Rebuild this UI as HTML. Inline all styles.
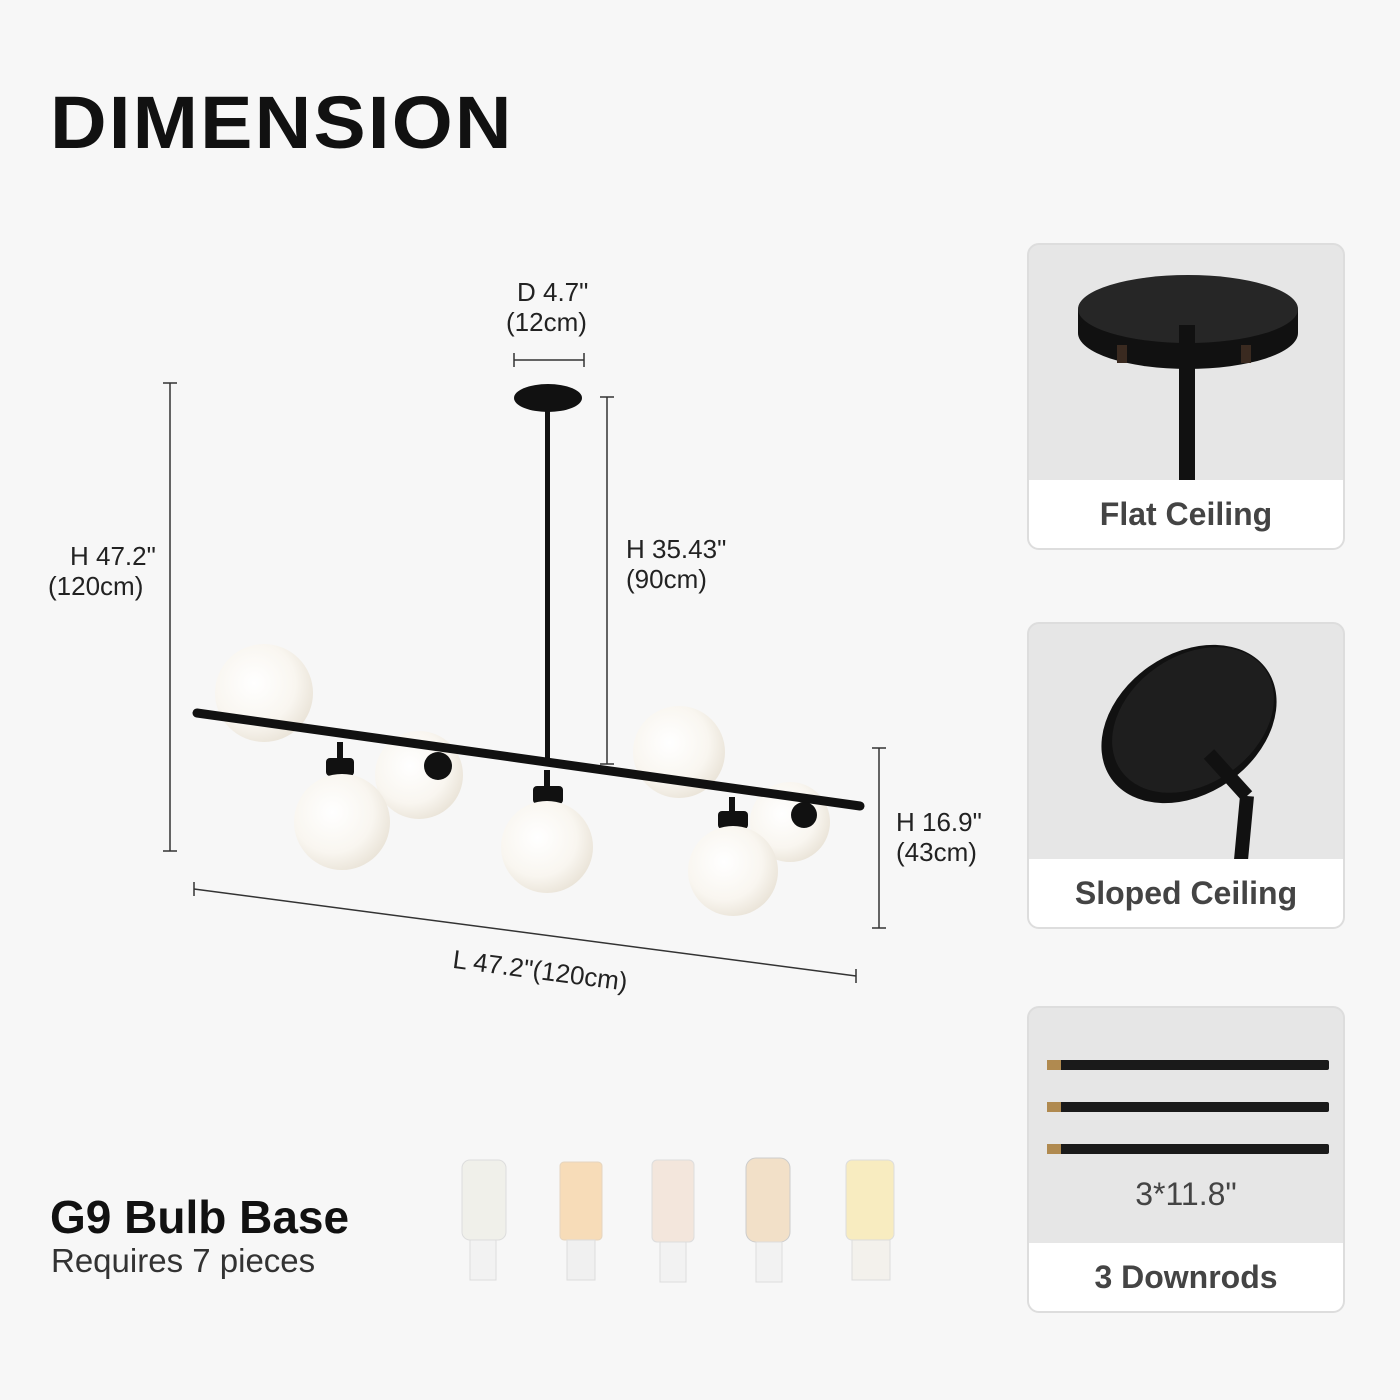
<!DOCTYPE html>
<html><head><meta charset="utf-8"><style>
body{margin:0;width:1400px;height:1400px;background:#f7f7f7;font-family:"Liberation Sans",sans-serif;position:relative;overflow:hidden}
.t{position:absolute;color:#222;white-space:nowrap}
.card{position:absolute;left:1027px;width:318px;border:2px solid #ddd;border-radius:12px;background:#e6e6e6;overflow:hidden;box-sizing:border-box}
.card .lab{position:absolute;left:0;right:0;bottom:0;height:68px;background:#fff;text-align:center;line-height:68px;font-size:32px;font-weight:bold;color:#444}
</style></head><body>
<div class="t" style="left:50px;top:80px;font-size:74px;font-weight:900;color:#111;letter-spacing:2px;transform:scaleX(1.06);transform-origin:left top">DIMENSION</div>

<svg style="position:absolute;left:0;top:0" width="1000" height="1050">
<g stroke="#333" stroke-width="1.5" fill="none">
<line x1="170" y1="383" x2="170" y2="851"/><line x1="163" y1="383" x2="177" y2="383"/><line x1="163" y1="851" x2="177" y2="851"/>
<line x1="514" y1="360" x2="584" y2="360"/><line x1="514" y1="353" x2="514" y2="367"/><line x1="584" y1="353" x2="584" y2="367"/>
<line x1="607" y1="397" x2="607" y2="764"/><line x1="600" y1="397" x2="614" y2="397"/><line x1="600" y1="764" x2="614" y2="764"/>
<line x1="879" y1="748" x2="879" y2="928"/><line x1="872" y1="748" x2="886" y2="748"/><line x1="872" y1="928" x2="886" y2="928"/>
<line x1="194" y1="889" x2="856" y2="976"/><line x1="194" y1="882" x2="194" y2="896"/><line x1="856" y1="969" x2="856" y2="983"/>
</g>
<ellipse cx="548" cy="398" rx="34" ry="14" fill="#111"/>
<rect x="545" y="405" width="5" height="355" fill="#111"/>
<defs><radialGradient id="g" cx="0.4" cy="0.4" r="0.7"><stop offset="0" stop-color="#ffffff"/><stop offset="0.6" stop-color="#f9f6f0"/><stop offset="1" stop-color="#e6dfd2"/></radialGradient></defs>
<circle cx="419" cy="775" r="44" fill="url(#g)"/>
<circle cx="790" cy="822" r="40" fill="url(#g)"/>
<circle cx="679" cy="752" r="46" fill="url(#g)"/>
<circle cx="264" cy="693" r="49" fill="url(#g)"/>
<line x1="197" y1="713" x2="860" y2="806" stroke="#111" stroke-width="9" stroke-linecap="round"/>
<circle cx="438" cy="766" r="14" fill="#111"/><circle cx="804" cy="815" r="13" fill="#111"/>
<rect x="337" y="742" width="6" height="20" fill="#111"/><rect x="326" y="758" width="28" height="18" rx="4" fill="#111"/>
<circle cx="342" cy="822" r="48" fill="url(#g)"/>
<rect x="544" y="770" width="6" height="20" fill="#111"/><rect x="533" y="786" width="30" height="18" rx="4" fill="#111"/>
<circle cx="547" cy="847" r="46" fill="url(#g)"/>
<rect x="729" y="797" width="6" height="18" fill="#111"/><rect x="718" y="811" width="30" height="18" rx="4" fill="#111"/>
<circle cx="733" cy="871" r="45" fill="url(#g)"/>
</svg>

<div class="t" style="left:517px;top:277px;font-size:26px">D 4.7"</div>
<div class="t" style="left:506px;top:307px;font-size:26px">(12cm)</div>
<div class="t" style="left:70px;top:541px;font-size:26px">H 47.2"</div>
<div class="t" style="left:48px;top:571px;font-size:26px">(120cm)</div>
<div class="t" style="left:626px;top:534px;font-size:26px">H 35.43"</div>
<div class="t" style="left:626px;top:564px;font-size:26px">(90cm)</div>
<div class="t" style="left:896px;top:807px;font-size:26px">H 16.9"</div>
<div class="t" style="left:896px;top:837px;font-size:26px">(43cm)</div>
<div class="t" style="left:455px;top:944px;font-size:26px;transform:rotate(7.5deg);transform-origin:left top">L 47.2"(120cm)</div>

<div class="t" style="left:50px;top:1190px;font-size:46px;font-weight:bold;color:#111">G9 Bulb Base</div>
<div class="t" style="left:51px;top:1242px;font-size:33px;color:#333">Requires 7 pieces</div>

<svg style="position:absolute;left:440px;top:1150px" width="480" height="180">
<g>
<rect x="22" y="10" width="44" height="80" rx="8" fill="#f0f0ea" stroke="#ddd"/><rect x="30" y="90" width="26" height="40" fill="#f2f2f2" stroke="#ddd"/>
<rect x="120" y="12" width="42" height="78" rx="4" fill="#f7dcb8" stroke="#e5d5c0"/><rect x="127" y="90" width="28" height="40" fill="#f0f0f0" stroke="#ddd"/>
<rect x="212" y="10" width="42" height="82" rx="5" fill="#f3e6dc" stroke="#ddd"/><rect x="220" y="92" width="26" height="40" fill="#f2f2f2" stroke="#ddd"/>
<rect x="306" y="8" width="44" height="84" rx="10" fill="#f2e0c8" stroke="#ccc"/><rect x="316" y="92" width="26" height="40" fill="#f2f2f2" stroke="#ddd"/>
<rect x="406" y="10" width="48" height="80" rx="6" fill="#f8ecc0" stroke="#ddd"/><rect x="412" y="90" width="38" height="40" fill="#f3f1ec" stroke="#ddd"/>
</g></svg>

<div class="card" style="top:243px;height:307px">
<svg width="318" height="240" style="position:absolute;left:0;top:0">
<rect x="49" y="64" width="220" height="24" fill="#111"/><ellipse cx="159" cy="88" rx="110" ry="36" fill="#111"/><ellipse cx="159" cy="64" rx="110" ry="34" fill="#262626"/>
<rect x="150" y="80" width="16" height="160" fill="#111"/><rect x="88" y="100" width="10" height="18" fill="#3a2a20"/><rect x="212" y="100" width="10" height="18" fill="#3a2a20"/>
</svg><div class="lab">Flat Ceiling</div></div>

<div class="card" style="top:622px;height:307px">
<svg width="318" height="240" style="position:absolute;left:0;top:0">
<ellipse cx="160" cy="100" rx="95" ry="70" fill="#111" transform="rotate(-35 160 100)"/><ellipse cx="164" cy="96" rx="88" ry="64" fill="#1e1e1e" transform="rotate(-35 164 96)"/>
<line x1="218" y1="172" x2="212" y2="236" stroke="#111" stroke-width="14"/><line x1="180" y1="130" x2="218" y2="172" stroke="#111" stroke-width="14"/>
</svg><div class="lab">Sloped Ceiling</div></div>

<div class="card" style="top:1006px;height:307px">
<svg width="318" height="120" style="position:absolute;left:0;top:40px">
<rect x="20" y="12" width="280" height="10" rx="2" fill="#1a1a1a"/><rect x="18" y="12" width="14" height="10" fill="#b08a50"/>
<rect x="20" y="54" width="280" height="10" rx="2" fill="#1a1a1a"/><rect x="18" y="54" width="14" height="10" fill="#b08a50"/>
<rect x="20" y="96" width="280" height="10" rx="2" fill="#1a1a1a"/><rect x="18" y="96" width="14" height="10" fill="#b08a50"/>
</svg>
<div class="t" style="left:0;right:0;top:168px;text-align:center;font-size:32px;color:#444">3*11.8"</div>
<div class="lab">3 Downrods</div></div>
</body></html>
